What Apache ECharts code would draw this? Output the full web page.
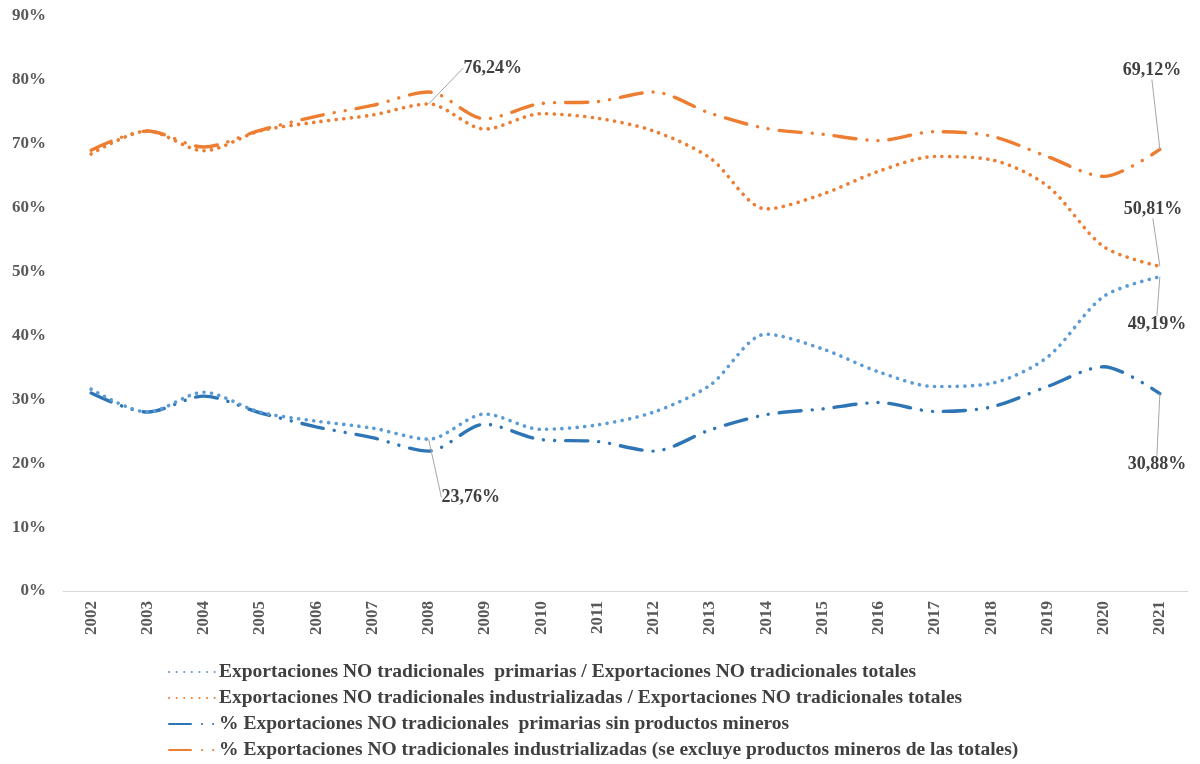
<!DOCTYPE html>
<html>
<head>
<meta charset="utf-8">
<script src="https://cdn.jsdelivr.net/npm/echarts@6/dist/echarts.min.js"></script>
<style>
html,body{margin:0;padding:0;background:#fff;}
#chart{width:1200px;height:764px;}
</style>
</head>
<body>
<div id="chart"></div>
<script>
// ---- data ----
const years = ['2002','2003','2004','2005','2006','2007','2008','2009','2010','2011','2012','2013','2014','2015','2016','2017','2018','2019','2020','2021'];
const primariasTotales = [31.6, 28.0, 31.1, 28.0, 26.6, 25.5, 23.76, 27.7, 25.3, 26.0, 28.0, 32.2, 40.2, 37.9, 34.3, 32.0, 32.5, 36.6, 46.1, 49.19];
const industrialesTotales = [68.4, 72.0, 68.9, 72.0, 73.4, 74.5, 76.24, 72.3, 74.7, 74.0, 72.0, 67.8, 59.8, 62.1, 65.7, 68.0, 67.5, 63.4, 53.9, 50.81];
const primariasSinMineros = [31.0, 28.0, 30.5, 27.9, 25.7, 24.0, 21.9, 26.1, 23.7, 23.4, 21.9, 25.2, 27.6, 28.5, 29.5, 28.1, 28.8, 32.0, 35.1, 30.88];
const industrialesExcl = [69.0, 72.0, 69.5, 72.1, 74.3, 76.0, 78.1, 73.9, 76.3, 76.6, 78.1, 74.8, 72.4, 71.5, 70.5, 71.9, 71.2, 68.0, 64.9, 69.12];
const yTicks = [0, 10, 20, 30, 40, 50, 60, 70, 80, 90];
const seriesNames = [
  'Exportaciones NO tradicionales  primarias / Exportaciones NO tradicionales totales',
  'Exportaciones NO tradicionales industrializadas / Exportaciones NO tradicionales totales',
  '% Exportaciones NO tradicionales  primarias sin productos mineros',
  '% Exportaciones NO tradicionales industrializadas (se excluye productos mineros de las totales)'
];
// annotated points: [seriesIndex, dataIndex, dx, dy]
const annotations = [
  [0, 6, 42, 58],
  [1, 6, 64, -36],
  [0, 19, -3, 48],
  [1, 19, -7, -57],
  [2, 19, -3, 71],
  [3, 19, -8, -79]
];

const FONT = '"Liberation Serif", "Times New Roman", serif';
const COLORS = ['#5B9BD5', '#ED7D31', '#2E75B6', '#ED7D31'];
const dotted = {type: [0.1, 7.5], width: 3.6, cap: 'round'};
const dashDot = {type: [22, 11, 0.1, 11, 0.1, 11], width: 3.4, cap: 'round'};

function buildData(values, sIdx) {
  return values.map((v, i) => {
    const ann = annotations.find(a => a[0] === sIdx && a[1] === i);
    if (!ann) return v;
    return {
      value: v,
      label: {
        show: true,
        formatter: () => v.toFixed(2).replace('.', ',') + '%'
      },
      labelLine: {show: true}
    };
  });
}

function layoutFor(sIdx) {
  return function (params) {
    const ann = annotations.find(a => a[0] === sIdx && a[1] === params.dataIndex);
    if (!ann) return {};
    return {dx: ann[2], dy: ann[3]};
  };
}

const allSeries = [primariasTotales, industrialesTotales, primariasSinMineros, industrialesExcl].map((vals, s) => ({
  name: seriesNames[s],
  type: 'line',
  data: buildData(vals, s),
  smooth: 0.3,
  symbol: 'circle',
  symbolSize: 0.01,
  showSymbol: true,
  showAllSymbol: true,
  color: COLORS[s],
  itemStyle: {color: COLORS[s]},
  lineStyle: Object.assign({color: COLORS[s]}, s < 2 ? dotted : dashDot),
  label: {
    show: false,
    position: 'inside',
    fontFamily: FONT,
    fontWeight: 'bold',
    fontSize: 18,
    color: '#404040'
  },
  labelLine: {show: false, lineStyle: {color: '#a6a6a6', width: 1}},
  labelLayout: layoutFor(s),
  emphasis: {disabled: true},
  z: s < 2 ? 3 : 2
}));

const chart = echarts.init(document.getElementById('chart'), null, {renderer: 'canvas'});
chart.setOption({
  animation: false,
  backgroundColor: '#ffffff',
  grid: {left: 63, right: 12, top: 16, bottom: 173, containLabel: false},
  legend: {
    orient: 'vertical',
    left: 168,
    top: 662,
    itemWidth: 46,
    itemHeight: 12,
    itemGap: 6,
    padding: 0,
    data: seriesNames,
    itemStyle: {opacity: 0},
    textStyle: {fontFamily: FONT, fontWeight: 'bold', fontSize: 19.5, lineHeight: 20, color: '#404040', padding: [0, 0, 0, -1]}
  },
  xAxis: {
    type: 'category',
    data: years,
    boundaryGap: true,
    axisLine: {show: true, lineStyle: {color: '#d9d9d9', width: 1}},
    axisTick: {show: false},
    axisLabel: {rotate: 90, fontFamily: FONT, fontWeight: 'bold', fontSize: 17, color: '#595959', margin: 10}
  },
  yAxis: {
    type: 'value',
    min: yTicks[0],
    max: yTicks[yTicks.length - 1],
    interval: 10,
    splitLine: {show: false},
    axisLine: {show: false},
    axisTick: {show: false},
    axisLabel: {formatter: '{value}%', fontFamily: FONT, fontWeight: 'bold', fontSize: 17, color: '#595959', margin: 17}
  },
  series: allSeries
});
</script>
</body>
</html>
